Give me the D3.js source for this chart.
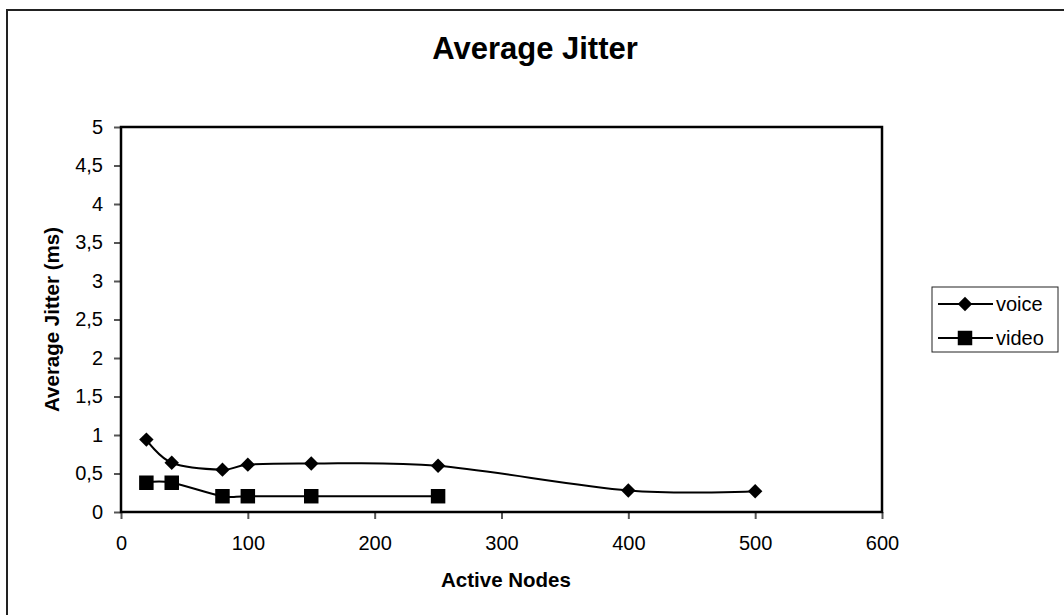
<!DOCTYPE html>
<html>
<head>
<meta charset="utf-8">
<script src="https://cdn.jsdelivr.net/npm/d3@7"></script>
<style>
  body { margin: 0; background: #fff; }
  svg { display: block; font-family: "Liberation Sans", Arial, sans-serif; }
</style>
</head>
<body>
<div id="chart"></div>
<script>
// data
var nodes = [20, 40, 80, 100, 150, 250, 400, 500];
var voice = [0.94, 0.64, 0.55, 0.615, 0.63, 0.60, 0.28, 0.27];
var videoNodes = [20, 40, 80, 100, 150, 250];
var video = [0.38, 0.38, 0.205, 0.205, 0.205, 0.205];
var xTicks = [0, 100, 200, 300, 400, 500, 600];
var yTicks = [0, 0.5, 1, 1.5, 2, 2.5, 3, 3.5, 4, 4.5, 5];
var seriesNames = ['voice', 'video'];

var width = 1064, height = 615;

var svg = d3.select('#chart')
  .append('svg')
    .attr('width', width)
    .attr('height', height);

// outer chart border (right/bottom fall outside the picture)
svg.append('rect')
  .attr('x', 7).attr('y', 10)
  .attr('width', 1070).attr('height', 620)
  .attr('fill', 'none')
  .attr('stroke', '#222')
  .attr('stroke-width', 2);

var plot = { left: 121, top: 127, right: 882, bottom: 512 };

var x = d3.scaleLinear().domain([0, 600]).range([plot.left, plot.right]);
var y = d3.scaleLinear().domain([0, 5]).range([plot.bottom, plot.top]);

var fmt = function(d) { return String(d).replace('.', ','); };

// title
svg.append('text')
  .attr('x', 535).attr('y', 59)
  .attr('text-anchor', 'middle')
  .attr('font-size', 31)
  .attr('font-weight', 'bold')
  .text('Average Jitter');

// axes
var xAxis = svg.append('g')
  .attr('transform', 'translate(0,' + plot.bottom + ')')
  .call(d3.axisBottom(x).tickValues(xTicks).tickSize(7).tickPadding(17));

var yAxis = svg.append('g')
  .attr('transform', 'translate(' + plot.left + ',0)')
  .call(d3.axisLeft(y).tickValues(yTicks).tickFormat(fmt).tickSize(7).tickPadding(11));

[xAxis, yAxis].forEach(function(a) {
  a.select('.domain').remove();
  a.selectAll('.tick line').attr('stroke', '#555').attr('stroke-width', 2);
  a.selectAll('.tick text')
    .attr('font-size', 20)
    .attr('font-family', '"Liberation Sans", Arial, sans-serif')
    .attr('fill', '#000');
});

// plot frame
svg.append('rect')
  .attr('x', plot.left).attr('y', plot.top)
  .attr('width', plot.right - plot.left)
  .attr('height', plot.bottom - plot.top)
  .attr('fill', 'none')
  .attr('stroke', '#000')
  .attr('stroke-width', 2.5);

// axis titles
svg.append('text')
  .attr('x', 506).attr('y', 587)
  .attr('text-anchor', 'middle')
  .attr('font-size', 20.5)
  .attr('font-weight', 'bold')
  .text('Active Nodes');

svg.append('text')
  .attr('transform', 'translate(59,' + ((plot.top + plot.bottom) / 2) + ') rotate(-90)')
  .attr('text-anchor', 'middle')
  .attr('font-size', 20.5)
  .attr('font-weight', 'bold')
  .text('Average Jitter (ms)');

// series
var line = d3.line()
  .x(function(d) { return x(d[0]); })
  .y(function(d) { return y(d[1]); })
  .curve(d3.curveCardinal.tension(0));

var voicePts = nodes.map(function(n, i) { return [n, voice[i]]; });
var videoPts = videoNodes.map(function(n, i) { return [n, video[i]]; });

var diamond = d3.symbol().type(d3.symbolSquare).size(104);
var square = d3.symbol().type(d3.symbolSquare).size(210);

function drawSeries(pts, kind) {
  svg.append('path')
    .datum(pts)
    .attr('d', line)
    .attr('fill', 'none')
    .attr('stroke', '#000')
    .attr('stroke-width', 2);

  svg.selectAll('path.m-' + kind)
    .data(pts)
    .enter()
      .append('path')
        .attr('class', 'm-' + kind)
        .attr('d', kind === 'voice' ? diamond : square)
        .attr('transform', function(d) {
          return 'translate(' + x(d[0]) + ',' + y(d[1]) + ')' + (kind === 'voice' ? ' rotate(45)' : '');
        })
        .attr('fill', '#000');
}

drawSeries(voicePts, 'voice');
drawSeries(videoPts, 'video');

// legend
var legend = svg.append('g').attr('class', 'legend');
legend.append('rect')
  .attr('x', 932).attr('y', 287)
  .attr('width', 126).attr('height', 65)
  .attr('fill', '#fff')
  .attr('stroke', '#222')
  .attr('stroke-width', 1);

seriesNames.forEach(function(name, i) {
  var cy = 304 + i * 34;
  legend.append('line')
    .attr('x1', 938).attr('x2', 993)
    .attr('y1', cy).attr('y2', cy)
    .attr('stroke', '#000').attr('stroke-width', 2);
  legend.append('path')
    .attr('d', name === 'voice' ? diamond : square)
    .attr('transform', 'translate(965,' + cy + ')' + (name === 'voice' ? ' rotate(45)' : ''))
    .attr('fill', '#000');
  legend.append('text')
    .attr('x', 996).attr('y', cy)
    .attr('dy', '0.35em')
    .attr('font-size', 20)
    .text(name);
});
</script>
</body>
</html>
